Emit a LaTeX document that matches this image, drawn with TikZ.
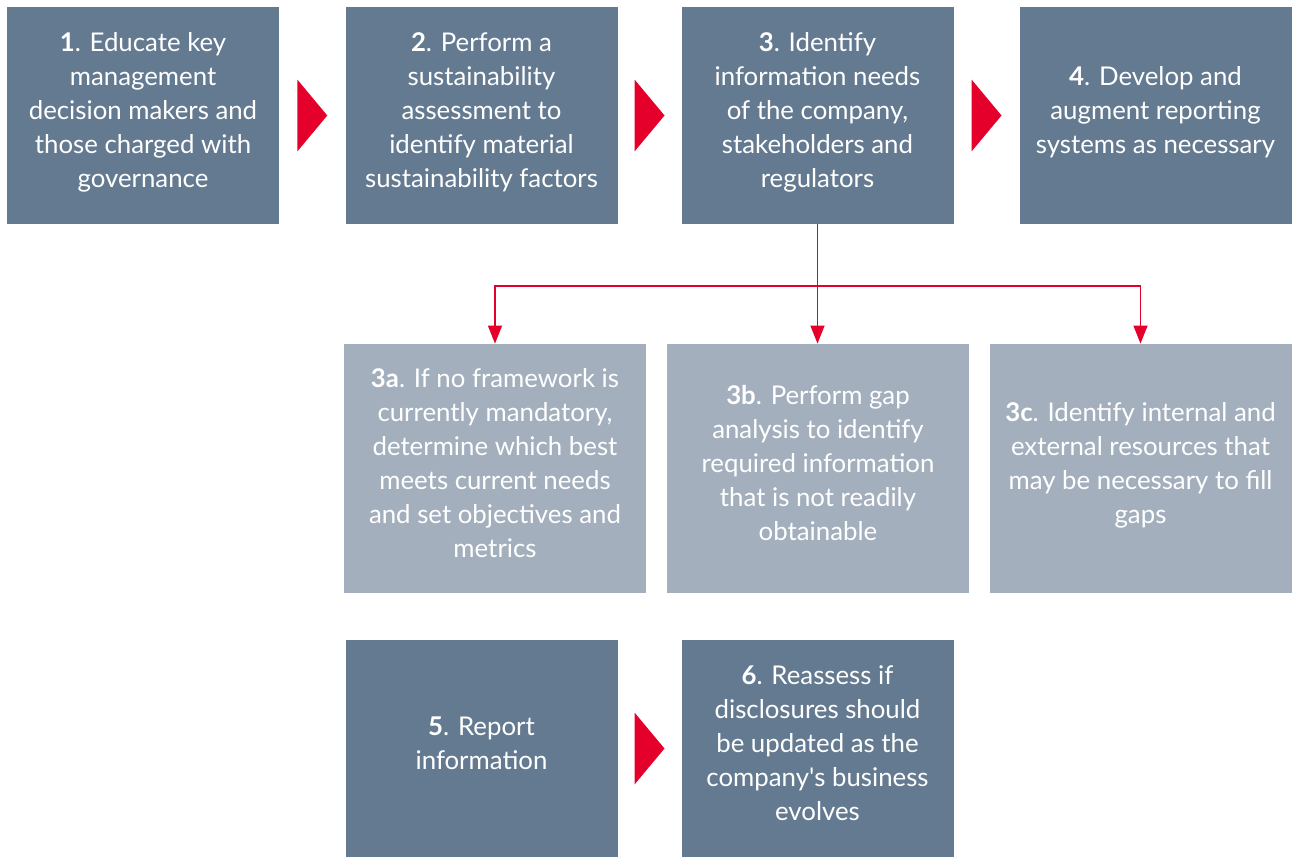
\documentclass[tikz,border=0pt]{standalone}
\usepackage{fontspec}
\setmainfont{Lato}
\usetikzlibrary{arrows.meta,calc}
\definecolor{slate}{RGB}{100,122,144}
\definecolor{mist}{RGB}{163,175,189}
\definecolor{signal}{RGB}{228,0,43}

\begin{document}
\begin{tikzpicture}[x=0.5pt,y=-0.5pt,
  box/.style={fill=slate,text=white,align=center,inner sep=0pt,
    font=\fontsize{12.9}{17}\selectfont,
    execute at end node={\rule[-5.5pt]{0pt}{5.5pt}},
    minimum width=136pt,minimum height=108.5pt},
  sub/.style={box,fill=mist,minimum width=151pt,minimum height=124.5pt},
  tri/.style={fill=signal},
  link/.style={signal,line width=0.75pt,-{Triangle[width=7pt,length=9pt]}}]
  \useasboundingbox (0,0) rectangle (1292,857);
  % main steps, top row
  \node[box] (s1) at (143,115.5) {\textbf{1}. Educate key\\management\\decision makers and\\those charged with\\governance};
  \node[box] (s2) at (481.5,115.5) {\textbf{2}. Perform a\\sustainability\\assessment to\\identify material\\sustainability factors};
  \node[box] (s3) at (817.5,115.5) {\textbf{3}. Identify\\information needs\\of the company,\\stakeholders and\\regulators};
  \node[box] (s4) at (1155.5,115.5) {\textbf{4}. Develop and\\augment reporting\\systems as necessary};
  % sub-steps of step 3
  \node[sub] (s3a) at (495,468.5) {\textbf{3a}. If no framework is\\currently mandatory,\\determine which best\\meets current needs\\and set objectives and\\metrics};
  \node[sub] (s3b) at (818,468.5) {\textbf{3b}. Perform gap\\analysis to identify\\required information\\that is not readily\\obtainable};
  \node[sub] (s3c) at (1140.5,468.5) {\textbf{3c}. Identify internal and\\external resources that\\may be necessary to fill\\gaps};
  % bottom row
  \node[box] (s5) at (481.5,748.5) {\textbf{5}. Report\\information};
  \node[box] (s6) at (817.5,748.5) {\textbf{6}. Reassess if\\disclosures should\\be updated as the\\company\textquotesingle s business\\evolves};
  % red markers between steps
  \foreach \a/\b in {s1/s2,s2/s3,s3/s4,s5/s6}
    \fill[tri] ($(\a.east)!0.5!(\b.west)$) ++(-7.5pt,18pt) -- ++(15pt,-18pt) -- ++(-15pt,-18pt) -- cycle;
  % fork from step 3
  \coordinate (fork) at (s3.south |- 0,286);
  \draw[link] (s3.south) -- (s3.south |- s3b.north);
  \draw[link] (fork) -| (s3a.north);
  \draw[link] (fork) -| (s3c.north);
\end{tikzpicture}
\end{document}
